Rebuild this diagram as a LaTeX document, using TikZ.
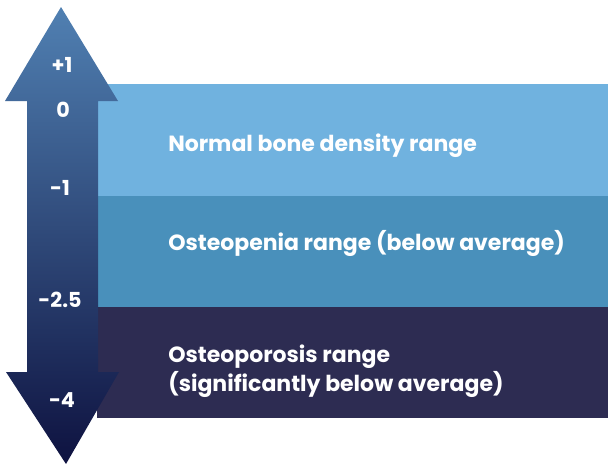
\documentclass[tikz,border=0pt]{standalone}
\usepackage{fontspec}
\setmainfont{Poppins}
\usepackage{tikz}
\usetikzlibrary{positioning, calc}
\usepackage{xcolor}
\definecolor{normalband}{HTML}{70B2DF}
\definecolor{peniaband}{HTML}{4990BB}
\definecolor{porosisband}{HTML}{2D2C52}
\definecolor{arrowtop}{HTML}{5080B2}
\definecolor{arrowmid}{HTML}{263864}
\definecolor{arrowbot}{HTML}{0E1240}

\begin{document}
\begin{tikzpicture}[
  x=0.75pt, y=-0.75pt,
  rangetext/.style={anchor=west, text=white, font=\fontsize{16.5}{22}\selectfont\bfseries,
                align=left, inner sep=0pt},
  score/.style={text=white, font=\fontsize{15.5}{17}\selectfont\bfseries, inner sep=0pt},
]
  \useasboundingbox (0,0) rectangle (608,464);
  % bands
  \fill[normalband] (97,84) rectangle (608,196);
  \fill[peniaband] (97,196) rectangle (608,307);
  \fill[porosisband] (97,307) rectangle (608,418);
  % double arrow
  \shade[top color=arrowtop, middle color=arrowmid, bottom color=arrowbot]
    (61,7) -- (118,101) -- (98,101) -- (98,372) -- (119,372) -- (66,464)
    -- (6,372) -- (27,372) -- (27,101) -- (5,101) -- cycle;
  \node[score] (plus1) at (62,65) {+1};
  \node[score] (zero) at (63,110) {0};
  \node[score] (minus1) at (60,188) {-1};
  \node[score] (minus25) at (60,300) {-2.5};
  \node[score] (minus4) at (62,400) {-4};
  \node[rangetext] (normal) at (168,146) {Normal bone density range};
  \node[rangetext] (penia) at (168,243) {Osteopenia range (below average)};
  \node[rangetext] (porosis) at (168,371) {Osteoporosis range\\(significantly below average)};
\end{tikzpicture}
\end{document}
